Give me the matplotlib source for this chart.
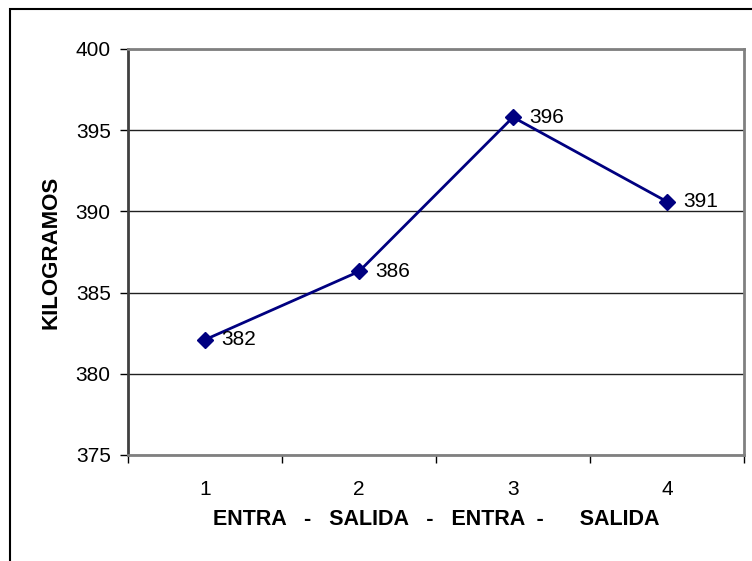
import matplotlib
matplotlib.use("Agg")
import matplotlib.pyplot as plt
from matplotlib.patches import Rectangle

# pesos medidos en cada pesaje
categorias = ["1", "2", "3", "4"]
kilogramos = [382.1, 386.3, 395.8, 390.6]
y_ticks = [375, 380, 385, 390, 395, 400]

plt.rcParams["font.family"] = ["Liberation Sans", "DejaVu Sans"]

W, H = 752, 561
fig = plt.figure(figsize=(W / 100, H / 100), dpi=100)
ax = fig.add_axes([128 / W, 1 - 455 / H, (744 - 128) / W, (455 - 49) / H])

# marco exterior (solo lados superior e izquierdo visibles)
fig.patches.append(Rectangle((10 / W, -0.1), 1.2, 1 - 9 / H + 0.1,
                             transform=fig.transFigure, fill=False,
                             edgecolor="black", linewidth=1.5))

x = list(range(len(categorias)))
ax.plot(x, kilogramos, color="#000080", linewidth=2, marker="D",
        markersize=8.5, markerfacecolor="#000080", markeredgecolor="#000080",
        markeredgewidth=1, zorder=3)
for xi, v in zip(x, kilogramos):
    ax.annotate(f"{v:.0f}", (xi, v), xytext=(12, 0), textcoords="offset points",
                ha="left", va="center", fontsize=15)

ax.set_xlim(-0.5, len(categorias) - 0.5)
ax.set_ylim(375, 400)
ax.set_yticks(y_ticks)
ax.set_yticklabels([str(t) for t in y_ticks], fontsize=15)
ax.set_xticks([i - 0.5 for i in range(len(categorias) + 1)])
ax.set_xticklabels([])
ax.set_xticks(x, minor=True)
ax.set_xticklabels(categorias, minor=True, fontsize=15)
ax.tick_params(axis="x", which="minor", length=0, pad=18)
ax.tick_params(axis="x", which="major", length=6, width=1, color="black")
ax.tick_params(axis="y", length=6, width=1, color="black", pad=6.5)

ax.yaxis.grid(True, color="#202020", linewidth=1)
ax.set_axisbelow(True)
for s in ax.spines.values():
    s.set_color("#808080")
    s.set_linewidth(2)
ax.spines["left"].set_color("#404040")

ax.set_ylabel("KILOGRAMOS", fontsize=16, fontweight="bold", labelpad=10)
ax.set_xlabel("ENTRA   -   SALIDA   -   ENTRA  -      SALIDA", fontsize=15.5,
              fontweight="bold", labelpad=7)

fig.savefig("out.png", dpi=100)
